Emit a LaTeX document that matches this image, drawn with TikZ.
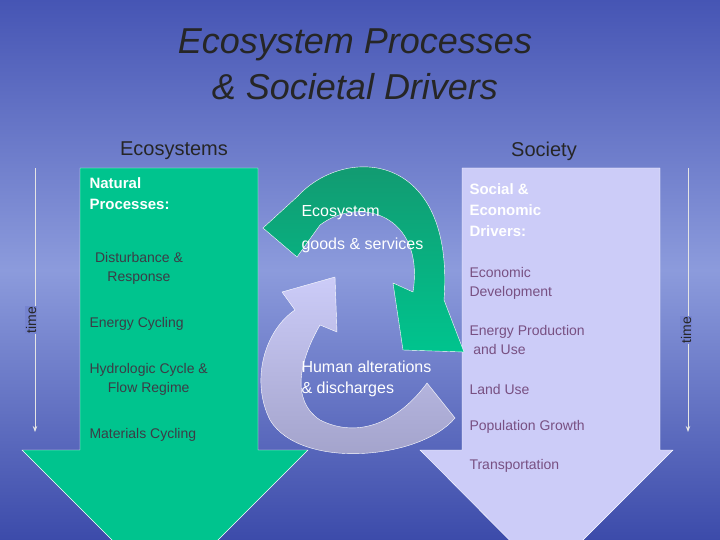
\documentclass[tikz,border=0pt]{standalone}
\usepackage{fontspec}
\setmainfont{Liberation Sans}
\usetikzlibrary{arrows.meta,positioning,calc}
\definecolor{seagreen}{RGB}{0,196,142}
\definecolor{lilac}{RGB}{204,204,248}
\definecolor{greylilac}{RGB}{160,160,200}
\definecolor{plumtext}{RGB}{120,80,130}
\definecolor{darktext}{RGB}{60,60,70}
\definecolor{seablue}{RGB}{118,132,208}
\begin{document}
\begin{tikzpicture}[x=1pt,y=-1pt,
    heading/.style={font=\fontsize{20}{22}\selectfont, text=black!85},
    boldlabel/.style={anchor=west, align=left, font=\bfseries\fontsize{15}{21}\selectfont, text=white},
    item/.style={anchor=west, align=left, font=\fontsize{14}{19}\selectfont, text=darktext},
    driver/.style={anchor=west, align=left, font=\fontsize{14}{19}\selectfont, text=plumtext},
    flowlabel/.style={anchor=west, align=left, font=\fontsize{16}{21}\selectfont, text=white},
    timeaxis/.style={thick, white!90!black, -{Stealth[length=6pt]}},
    timelabel/.style={rotate=90, fill=seablue, inner sep=1pt, font=\fontsize{14}{16}\selectfont, text=black!85}
]
\useasboundingbox (0,0) rectangle (720,540);
\begin{scope}
\clip (0,0) rectangle (720,540);
% background
\shade[top color={rgb,255:red,70;green,85;blue,180}, bottom color={rgb,255:red,60;green,75;blue,170},
       middle color={rgb,255:red,140;green,155;blue,220}] (0,0) rectangle (720,540);
% big arrows
\fill[seagreen, draw=white, thin] (80,168) -- (258,168) -- (258,450) -- (308,450)
   -- (165,593) -- (22,450) -- (80,450) -- cycle;
\fill[lilac, draw=white, thin] (462,168) -- (660,168) -- (660,450) -- (673,450)
   -- (546,577) -- (420,450) -- (462,450) -- cycle;
% cycle arrows
\shade[top color=lilac, bottom color=greylilac, draw=white, thin]
   (282,292) -- (335,277) -- (337,332) -- (320,325)
   .. controls (300,360) and (290,400) .. (320,420)
   .. controls (360,440) and (400,420) .. (427,383) -- (455,418)
   .. controls (420,460) and (300,470) .. (270,420)
   .. controls (250,380) and (265,330) .. (295,310) -- cycle;
\shade[top color={rgb,255:red,20;green,150;blue,110}, bottom color=seagreen, draw=white, thin]
   (263,228) -- (298,196) .. controls (345,145) and (455,150) .. (444,300)
   -- (464,352) -- (403,350) -- (393,283) -- (413,292)
   .. controls (425,215) and (360,195) .. (320,225) -- (297,257) -- cycle;
\end{scope}

% titles
\node[font=\itshape\fontsize{36}{46}\selectfont, text=black!85, align=center] (title) at (355,64)
  {Ecosystem Processes\\\& Societal Drivers};
\node[heading] (eco) at (174,151) {Ecosystems};
\node[heading] (soc) at (544,151) {Society};

% ecosystem side
\node[boldlabel] (natural) at (86,194) {Natural\\Processes:};
\node[item, anchor=center, align=center] (disturb) at (139,268) {Disturbance \&\\Response};
\node[item] (energy) at (86,324) {Energy Cycling};
\node[item, align=center] (hydro) at (86,379) {Hydrologic Cycle \&\\Flow Regime};
\node[item] (material) at (86,435) {Materials Cycling};

% society side
\node[boldlabel] (social) at (466,210) {Social \&\\Economic\\Drivers:};
\node[driver] (econdev) at (466,283) {Economic\\Development};
\node[driver] (prod) at (466,340) {Energy Production\\\ and Use};
\node[driver] (land) at (466,389) {Land Use};
\node[driver] (pop) at (466,427) {Population Growth};
\node[driver] (transp) at (466,466) {Transportation};

% cycle labels
\node[flowlabel] (goods) at (298,213) {Ecosystem};
\node[flowlabel] (goods2) at (298,245) {goods \& services};
\node[flowlabel] (human) at (298,379) {Human alterations\\\& discharges};

% time axes
\coordinate (ltop) at (35,168);
\coordinate (lbot) at (35,432);
\coordinate (rtop) at (688,168);
\coordinate (rbot) at (688,432);
\draw[timeaxis] (ltop) -- (lbot);
\draw[timeaxis] (rtop) -- (rbot);
\node[timelabel] (ltime) at (31,320) {time};
\node[timelabel] (rtime) at (686,330) {time};
\end{tikzpicture}
\end{document}
